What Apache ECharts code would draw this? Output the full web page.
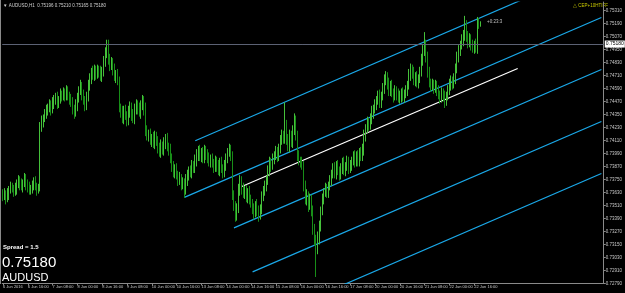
<!DOCTYPE html>
<html><head><meta charset="utf-8">
<script src="https://cdn.jsdelivr.net/npm/echarts@6/dist/echarts.min.js"></script>
<style>html,body{margin:0;padding:0;background:#000;}#c{width:625px;height:293px;}</style>
</head><body><div id="c"></div>
<script>
// ---- data (AUDUSD, H1) ----
const firstOpen = 0.7362;
const closes = [
0.7360,0.7362,0.7358,0.7361,0.7365,0.7368,0.7367,0.7364,0.7367,0.7371,
0.7374,0.7370,0.7368,0.7372,0.7376,0.7371,0.7368,0.7365,0.7367,0.7370,
0.7373,0.7369,0.7366,0.7367,0.7423,0.7428,0.7431,0.7435,0.7439,0.7441,
0.7444,0.7440,0.7445,0.7448,0.7451,0.7446,0.7449,0.7453,0.7452,0.7455,
0.7452,0.7456,0.7453,0.7450,0.7446,0.7440,0.7437,0.7443,0.7450,0.7457,
0.7461,0.7453,0.7448,0.7444,0.7451,0.7461,0.7468,0.7474,0.7471,0.7476,
0.7472,0.7476,0.7474,0.7470,0.7474,0.7483,0.7492,0.7499,0.7487,0.7480,
0.7483,0.7476,0.7470,0.7472,0.7466,0.7440,0.7437,0.7431,0.7439,0.7434,
0.7429,0.7437,0.7442,0.7435,0.7431,0.7439,0.7444,0.7440,0.7437,0.7443,
0.7448,0.7440,0.7420,0.7415,0.7417,0.7411,0.7413,0.7408,0.7415,0.7411,
0.7404,0.7400,0.7406,0.7402,0.7409,0.7413,0.7405,0.7402,0.7394,0.7387,
0.7381,0.7385,0.7379,0.7374,0.7376,0.7370,0.7372,0.7365,0.7374,0.7379,
0.7383,0.7381,0.7388,0.7385,0.7392,0.7398,0.7402,0.7396,0.7400,0.7394,
0.7402,0.7398,0.7394,0.7391,0.7394,0.7390,0.7386,0.7392,0.7388,0.7383,
0.7391,0.7385,0.7381,0.7388,0.7394,0.7400,0.7402,0.7397,0.7360,0.7351,
0.7342,0.7348,0.7365,0.7374,0.7367,0.7362,0.7365,0.7358,0.7363,0.7356,
0.7353,0.7348,0.7344,0.7351,0.7346,0.7342,0.7348,0.7359,0.7365,0.7369,
0.7374,0.7383,0.7391,0.7388,0.7394,0.7397,0.7400,0.7396,0.7404,0.7411,
0.7416,0.7413,0.7425,0.7411,0.7406,0.7416,0.7409,0.7420,0.7429,0.7416,
0.7397,0.7392,0.7391,0.7388,0.7369,0.7356,0.7360,0.7351,0.7357,0.7346,
0.7330,0.7319,0.7311,0.7321,0.7332,0.7346,0.7357,0.7363,0.7367,0.7363,
0.7369,0.7374,0.7380,0.7385,0.7381,0.7388,0.7383,0.7379,0.7385,0.7391,
0.7383,0.7387,0.7392,0.7385,0.7388,0.7392,0.7396,0.7391,0.7397,0.7392,
0.7400,0.7396,0.7402,0.7416,0.7422,0.7428,0.7425,0.7431,0.7437,0.7440,
0.7444,0.7448,0.7452,0.7446,0.7452,0.7459,0.7466,0.7470,0.7464,0.7457,
0.7462,0.7455,0.7452,0.7457,0.7453,0.7450,0.7452,0.7455,0.7451,0.7454,
0.7457,0.7462,0.7471,0.7477,0.7474,0.7466,0.7470,0.7464,0.7468,0.7474,
0.7485,0.7494,0.7499,0.7489,0.7474,0.7464,0.7461,0.7463,0.7459,0.7462,
0.7457,0.7453,0.7450,0.7455,0.7452,0.7448,0.7452,0.7457,0.7462,0.7466,
0.7463,0.7468,0.7477,0.7487,0.7494,0.7499,0.7503,0.7508,0.7517,0.7508,
0.7501,0.7505,0.7499,0.7496,0.7499,0.7496,0.7520,0.7518,0.7518
];
// wick lengths above / below the body, in pips
const upperWick = [
4,5,3,6,4,5,4,3,5,4, 5,4,6,3,5,4,4,5,3,4, 4,5,3,4,5,6,4,5,5,4, 5,4,6,5,4,5,3,6,4,5,
4,6,5,3,4,5,4,6,5,4, 6,4,5,4,5,6,5,4,6,5, 4,5,4,6,5,6,5,5,5,4, 5,4,6,4,5,4,5,6,4,5,
4,6,5,4,5,6,5,4,6,5, 5,4,6,5,4,5,4,6,5,4, 4,5,6,4,5,4,5,4,6,5, 5,4,5,4,6,4,5,4,6,5,
4,5,5,4,6,5,4,5,4,5, 5,4,5,6,4,5,4,5,4,5, 4,5,4,5,5,4,6,5,4,5, 4,5,6,5,4,5,4,5,4,6,
5,4,5,4,6,5,4,5,4,5, 4,5,5,4,5,4,6,5,4,5, 5,4,21,5,6,5,4,5,7,5, 4,5,4,5,4,5,6,4,5,4,
5,4,5,6,5,4,5,4,5,4, 4,5,4,5,6,4,5,4,5,4, 5,4,5,4,5,4,5,6,4,5, 4,5,6,5,4,5,4,5,6,4,
5,4,5,6,4,5,6,5,4,5, 4,5,4,5,4,6,5,4,5,4, 5,4,6,5,4,5,4,5,4,5, 6,5,12,5,4,5,4,5,4,5,
4,5,4,5,4,5,4,5,6,5, 4,5,5,6,5,4,6,5,9,5, 4,5,4,5,4,6,5,4,3
];
const lowerWick = [
5,4,6,4,5,3,4,5,4,6, 4,5,3,5,4,6,5,4,4,5, 5,4,6,4,3,4,5,3,4,5, 4,6,4,5,4,6,5,4,5,4,
5,4,5,6,4,5,6,4,5,4, 4,5,4,6,5,4,4,5,4,5, 5,4,5,4,5,4,4,5,6,5, 4,5,4,6,4,3,5,4,5,4,
5,4,5,6,4,5,4,5,4,6, 4,6,5,4,5,4,6,4,5,5, 5,4,5,4,5,6,4,5,4,5, 4,5,4,5,4,5,4,7,4,5,
5,4,5,4,4,5,6,4,5,4, 4,5,4,4,5,4,5,4,6,4, 5,4,5,4,5,4,4,5,4,5, 6,5,4,5,6,4,5,4,5,4,
4,5,6,4,5,6,4,5,4,5, 5,4,5,6,4,5,4,5,4,5, 4,5,5,4,5,6,4,5,4,5, 5,4,5,4,5,4,5,6,4,5,
6,5,26,5,6,5,4,5,4,5, 5,4,5,4,5,6,4,5,4,5, 4,5,4,5,4,5,4,5,4,5, 5,4,4,5,6,4,5,4,5,6,
4,5,4,5,5,4,5,4,6,5, 5,4,6,4,5,4,5,6,4,5, 4,5,4,5,6,4,5,4,5,4, 4,5,5,6,5,4,5,4,5,4,
5,4,5,4,5,7,5,4,4,5, 5,4,5,4,4,5,4,5,5,6, 5,4,5,4,5,4,5,4,2
];
const tickLabels = ["6 Jun 2016","6 Jun 16:00","7 Jun 08:00","8 Jun 00:00","8 Jun 16:00","9 Jun 08:00",
"10 Jun 00:00","10 Jun 16:00","13 Jun 08:00","14 Jun 00:00","14 Jun 16:00","15 Jun 08:00",
"16 Jun 00:00","16 Jun 16:00","17 Jun 08:00","20 Jun 00:00","20 Jun 16:00","21 Jun 08:00",
"22 Jun 00:00","22 Jun 16:00"];
const barsPerTick = 16;
const slotCount = 388;
const bidPrice = 0.7518;
const yMin = 0.7279, yMax = 0.75388, yStep = 0.0012;
// trend channel lines: [barIndex, price]
const channelA = [[124,0.74108],[386,0.75725]];
const channelB = [[117,0.73585],[386,0.75245]];
const channelC = [[149,0.73303],[386,0.74765]];
const channelD = [[161,0.72897],[386,0.74285]];
const channelE = [[200,0.72657],[386,0.73805]];
const whiteTrend = [[154,0.73685],[332,0.74774]];

// ---- build ----
const pip = 0.0001;
const ohlc = closes.map((c, i) => {
  const o = i ? closes[i-1] : firstOpen;
  return [o, c, Math.min(o,c) - lowerWick[i]*pip, Math.max(o,c) + upperWick[i]*pip];
});
const cats = Array.from({length: slotCount}, (_, i) => String(i));
const isTick = i => i % barsPerTick === 0 && i / barsPerTick < tickLabels.length;
const FONT = 'Liberation Sans';
const lineSeries = (d, color) => ({
  type: 'line', data: d, symbol: 'none', showSymbol: false, silent: true, clip: true,
  lineStyle: {color: color, width: 1.2}, z: 3, animation: false
});
const chart = echarts.init(document.getElementById('c'), null, {renderer: 'canvas'});
chart.setOption({
  backgroundColor: '#000',
  animation: false,
  grid: {left: 1, right: 18, top: 2, bottom: 9.5, containLabel: false},
  xAxis: {
    type: 'category', data: cats, boundaryGap: true,
    axisLine: {lineStyle: {color: '#8a8a8a', width: 1}},
    axisTick: {show: true, alignWithLabel: true, interval: (i) => isTick(i), length: 2, lineStyle: {color: '#8a8a8a'}},
    axisLabel: {interval: (i) => isTick(i), formatter: (v, i) => tickLabels[i / barsPerTick] || '',
      align: 'left', margin: 1.5, fontSize: 4, color: '#c8c8c8', fontFamily: FONT},
    splitLine: {show: false}
  },
  yAxis: {
    type: 'value', position: 'right', min: yMin, max: yMax, interval: yStep, scale: true,
    axisLine: {show: true, lineStyle: {color: '#8a8a8a', width: 1}},
    axisTick: {show: true, length: 2, lineStyle: {color: '#8a8a8a'}},
    axisLabel: {showMaxLabel: false, formatter: v => v.toFixed(5), fontSize: 4.5, color: '#c8c8c8', margin: 2, fontFamily: FONT},
    splitLine: {show: false}
  },
  series: [
    {
      type: 'candlestick', data: ohlc, barWidth: 1, z: 4,
      itemStyle: {color: '#aef0a0', color0: '#117c11', borderColor: '#45c03a', borderColor0: '#188e18', borderWidth: 1},
      markLine: {
        silent: true, symbol: ['none','none'], animation: false,
        lineStyle: {color: '#5c6274', width: 1, type: 'solid'},
        label: {show: true, position: 'end', distance: 1, formatter: bidPrice.toFixed(5),
          backgroundColor: '#ffffff', color: '#000', fontSize: 5, padding: [1,1,1,1], fontFamily: FONT},
        data: [{yAxis: bidPrice}]
      }
    },
    lineSeries(channelA, '#1aa8e8'),
    lineSeries(channelB, '#1aa8e8'),
    lineSeries(channelC, '#1aa8e8'),
    lineSeries(channelD, '#1aa8e8'),
    lineSeries(channelE, '#1aa8e8'),
    lineSeries(whiteTrend, '#ffffff')
  ],
  graphic: [
    {type: 'line', shape: {x1: 0.5, y1: 0, x2: 0.5, y2: 284}, style: {stroke: '#8a8a8a', lineWidth: 1}, silent: true},
    {type: 'text', left: 3, top: 3, style: {text: '\u25BC AUDUSD,H1  0.75196 0.75210 0.75165 0.75180', fill: '#d0d0d0', fontSize: 4.5, fontFamily: FONT}},
    {type: 'text', left: 573, top: 3, style: {text: '\u25B3 CEP+10HTIFF', fill: '#c8c800', fontSize: 4.5, fontFamily: FONT}},
    {type: 'text', left: 487, top: 19, style: {text: '+0:23:3', fill: '#c0c0c0', fontSize: 4.5, fontFamily: FONT}},
    {type: 'text', left: 3, top: 244, style: {text: 'Spread = 1.5', fill: '#ffffff', fontSize: 6, fontWeight: 'bold', fontFamily: FONT}},
    {type: 'text', left: 2, top: 255, style: {text: '0.75180', fill: '#ffffff', fontSize: 15, fontFamily: FONT}},
    {type: 'text', left: 2, top: 272, style: {text: 'AUDUSD', fill: '#ffffff', fontSize: 11, fontFamily: FONT}}
  ]
});
</script></body></html>
